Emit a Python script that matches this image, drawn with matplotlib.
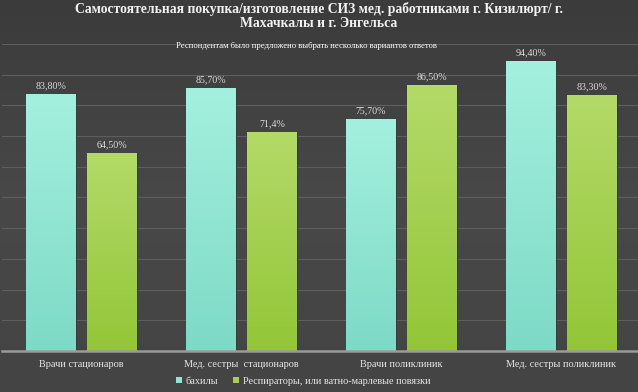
import matplotlib
matplotlib.use("Agg")
import matplotlib.pyplot as plt
import numpy as np
from matplotlib.patches import Patch

# data
categories = ["Врачи стационаров", "Мед. сестры  стационаров", "Врачи поликлиник", "Мед. сестры поликлиник"]
bakhily = [83.8, 85.7, 75.7, 94.4]
respirators = [64.5, 71.4, 86.5, 83.3]
bakhily_labels = ["83,80%", "85,70%", "75,70%", "94,40%"]
respirators_labels = ["64,50%", "71,4%", "86,50%", "83,30%"]
series_names = ["бахилы", "Респираторы, или ватно-марлевые повязки"]

plt.rcParams['font.family'] = ['Liberation Serif', 'DejaVu Serif']
text_color = '#e6e6e6'

fig = plt.figure(figsize=(6.38, 3.92), dpi=100)

# dark gradient background
bg = fig.add_axes([0, 0, 1, 1], zorder=-10)
grad = np.linspace(0, 1, 256).reshape(-1, 1)
bg.imshow(grad, aspect='auto', cmap=matplotlib.colors.LinearSegmentedColormap.from_list(
    'bg', ['#3b3b3b', '#484848', '#444444']), extent=[0, 1, 0, 1])
bg.axis('off')

ax = fig.add_axes([0.0024, 0.1046, 1.003, 0.7832])
ax.patch.set_alpha(0)

x = np.arange(len(categories))
width = 0.3125
off = 0.19

teal_cmap = matplotlib.colors.LinearSegmentedColormap.from_list('t', ['#7ddac6', '#a4f0de'])
green_cmap = matplotlib.colors.LinearSegmentedColormap.from_list('g', ['#93c637', '#b3da68'])

bars1 = ax.bar(x - off, bakhily, width, color='#8fe6d3', edgecolor='#2e2e2e', linewidth=0.6, zorder=2)
bars2 = ax.bar(x + off, respirators, width, color='#a4d050', edgecolor='#2e2e2e', linewidth=0.6, zorder=2)

# gradient fill inside each bar
for bars, cm in [(bars1, teal_cmap), (bars2, green_cmap)]:
    for b in bars:
        x0, h, w = b.get_x(), b.get_height(), b.get_width()
        im = ax.imshow(np.linspace(0, 1, 100).reshape(-1, 1), cmap=cm, origin='lower',
                       extent=[x0, x0 + w, 0, h], aspect='auto', zorder=2.5)
        im.set_clip_path(b)

for bars, labels in [(bars1, bakhily_labels), (bars2, respirators_labels)]:
    for b, lab in zip(bars, labels):
        ax.text(b.get_x() + b.get_width() / 2, b.get_height() + 1.2, lab,
                ha='center', va='bottom', fontsize=7.2, color='#d9d9d9', zorder=4)

ax.set_xlim(-0.5, 3.5)
ax.set_ylim(0, 100)
ax.set_yticks(np.arange(0, 101, 10))
ax.yaxis.grid(True, color='#5e5e5e', linewidth=0.8, zorder=0)
ax.set_axisbelow(True)
ax.tick_params(axis='y', left=False, labelleft=False)
ax.tick_params(axis='x', bottom=False, pad=3, labelsize=7.4, labelcolor=text_color)
ax.set_xticks(x)
ax.set_xticklabels(categories)
for s in ['top', 'right', 'left']:
    ax.spines[s].set_visible(False)
ax.spines['bottom'].set_color('#9a9a9a')
ax.spines['bottom'].set_linewidth(1.8)
ax.spines['bottom'].set_zorder(5)

fig.text(0.5, 0.996, "Самостоятельная покупка/изготовление СИЗ мед. работниками г. Кизилюрт/ г.\nМахачкалы и г. Энгельса",
         ha='center', va='top', fontsize=9.8, fontweight='bold', color='#f2f2f2', linespacing=1.15)
fig.text(0.48, 0.882, "Респондентам было предложено выбрать несколько вариантов ответов",
         ha='center', va='center', fontsize=6.2, color='#ffffff')

handles = [Patch(facecolor='#8fe6d3', label=series_names[0]),
           Patch(facecolor='#a4d050', label=series_names[1])]
leg = fig.legend(handles=handles, loc='center', bbox_to_anchor=(0.475, 0.028), ncol=2, frameon=False,
                 fontsize=7.4, handlelength=0.6, handleheight=0.6, handletextpad=0.3, columnspacing=1.5)
for t in leg.get_texts():
    t.set_color(text_color)

fig.savefig('out.png', dpi=100)
